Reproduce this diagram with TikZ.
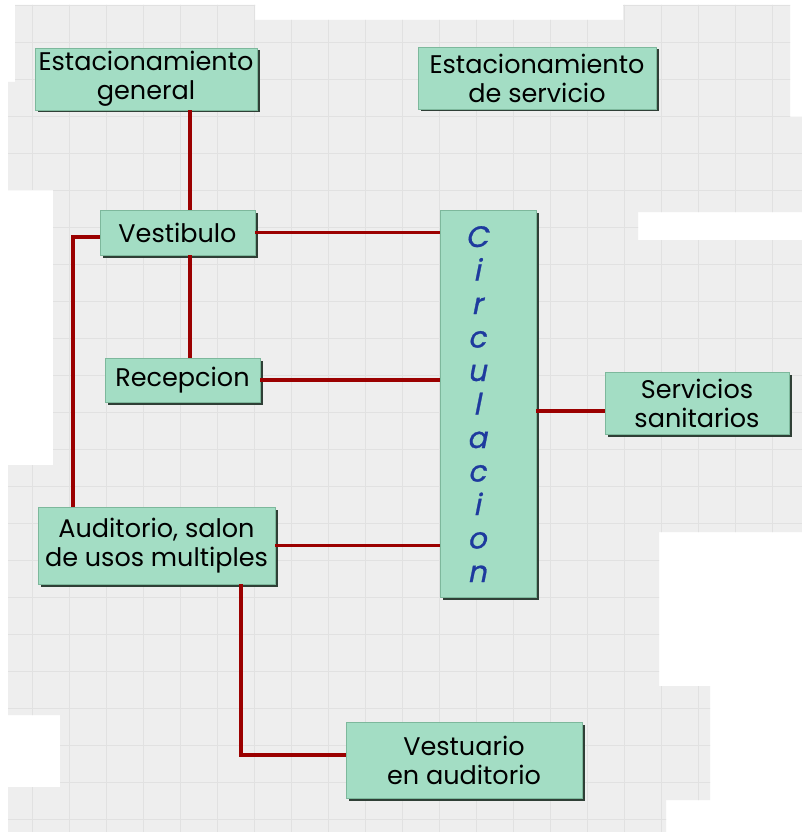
\documentclass[tikz,border=0pt]{standalone}
\usepackage{fontspec}
\setmainfont{Poppins}
\newfontface\circfont{Poppins}[FakeBold=0.9, FakeSlant=0.2]
\usetikzlibrary{shadows}
\definecolor{boxfill}{HTML}{A3DDC4}
\definecolor{boxedge}{HTML}{7DB89C}
\definecolor{shadowc}{HTML}{2F3F36}
\definecolor{linkred}{HTML}{9B0000}
\definecolor{circblue}{HTML}{1E3A9E}
\definecolor{bggray}{HTML}{EEEEEE}
\definecolor{gridc}{HTML}{E1E1E1}
\tikzset{
  box/.style={rectangle, fill=boxfill, draw=boxedge, line width=0.8pt, inner sep=0pt,
    align=center, text=black, font=\fontsize{25.5}{29}\selectfont,
    drop shadow={shadow xshift=2.5pt, shadow yshift=-2.5pt, fill=shadowc, opacity=1}},
  link/.style={draw=linkred, line width=3.2pt},
  circletter/.style={anchor=base, text=circblue, inner sep=0pt,
    font=\circfont\fontsize{29.5}{29.5}\selectfont},
  gridline/.style={draw=gridc, line width=0.8pt}
}
\begin{document}
\begin{tikzpicture}[x=1pt,y=-1pt]
\useasboundingbox (0,0) rectangle (802,832);
\fill[white] (0,0) rectangle (802,832);
% background paper pieces
\begin{scope}
\clip (15,5) rectangle (255,82)
      (8,82) rectangle (255,190)
      (255,20) rectangle (623,212)
      (623,5) rectangle (790,117)
      (623,117) rectangle (802,212)
      (53,190) rectangle (638,466)
      (638,240) rectangle (802,532)
      (8,465) rectangle (659,715)
      (60,715) rectangle (659,787)
      (8,787) rectangle (659,832)
      (659,686) rectangle (710,800)
      (659,800) rectangle (666,832);
\fill[bggray] (0,0) rectangle (802,832);
\begin{scope}[shift={(-5,5)}]
\draw[gridline, step=37pt] (0,-10) grid (820,840);
\end{scope}
\end{scope}

% boxes
\node[box, minimum width=222, minimum height=62] (eg) at (146,79) {Estacionamiento\\general};
\node[box, minimum width=238, minimum height=62] (es) at (537,78) {Estacionamiento\\de servicio};
\node[box, minimum width=155, minimum height=45] (vest) at (177.5,232.5) {Vestibulo};
\node[box, minimum width=155, minimum height=44] (rec) at (182.5,380) {Recepcion};
\node[box, minimum width=96, minimum height=387] (circ) at (488,403.5) {};
\node[box, minimum width=184, minimum height=62] (ss) at (697,403) {Servicios\\sanitarios};
\node[box, minimum width=237, minimum height=77] (aud) at (156.5,545.5) {Auditorio, salon\\de usos multiples};
\node[box, minimum width=236, minimum height=76] (vea) at (464,760) {Vestuario\\en auditorio};

% vertical word
\foreach \l [count=\i from 0] in {C,i,r,c,u,l,a,c,i,o,n}
  \node[circletter] (L\i) at (477,247+33.5*\i) {\l};

% junction coordinates
\coordinate (j1) at (190,0);
\coordinate (j2) at (73,237);
\coordinate (j3) at (0,411);
\coordinate (j4) at (241,755);

% connectors
\draw[link] (eg.south -| j1) -- (vest.north -| j1);
\draw[link] (vest.south -| j1) -- (rec.north -| j1);
\draw[link] (vest.east) -- (vest.east -| circ.west);
\draw[link] (rec.east) -- (rec.east -| circ.west);
\draw[link] (aud.east) -- (aud.east -| circ.west);
\draw[link] (circ.east |- j3) -- (ss.west |- j3);
\draw[link] (vest.west |- j2) -- (j2) -- (aud.north -| j2);
\draw[link] (aud.south -| j4) -- (j4) -- (vea.west |- j4);
\end{tikzpicture}
\end{document}
